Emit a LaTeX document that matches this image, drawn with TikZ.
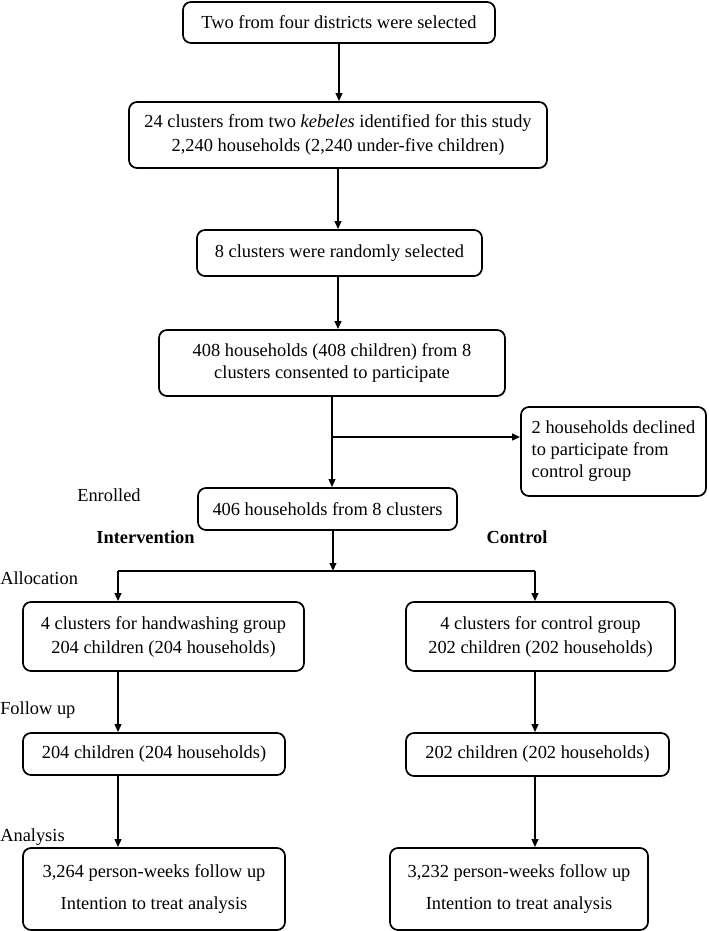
\documentclass[tikz,border=0pt]{standalone}
\usepackage{fontspec}
\setmainfont{LiberationSerif}[Extension=.ttf, UprightFont=*-Regular, BoldFont=*-Bold, ItalicFont=*-Italic, BoldItalicFont=*-BoldItalic]
\usetikzlibrary{arrows.meta}
\begin{document}
\begin{tikzpicture}[x=0.75pt,y=-0.75pt,
  box/.style={draw, line width=1.3pt, rounded corners=6pt, align=center, inner sep=0pt,
    font=\fontsize{13.8pt}{18pt}\selectfont},
  sz/.style 2 args={minimum width=#1*0.75pt, minimum height=#2*0.75pt},
  lbl/.style={inner sep=0pt, font=\fontsize{13.8pt}{16.5pt}\selectfont},
  arr/.style={line width=1.3pt, -{Triangle[length=6pt,width=5pt]}},
  ln/.style={line width=1.3pt}]
\useasboundingbox (0,0) rectangle (709,931);

% boxes
\node[box, sz={312}{41}] (b1) at (339,22.5) {Two from four districts were selected};
\node[box, sz={418}{66}] (b2) at (338,135) {24 clusters from two \textit{kebeles} identified for this study\\2,240 households (2,240 under-five children)};
\node[box, sz={285}{46}] (b3) at (339.5,253) {8 clusters were randomly selected};
\node[box, sz={346}{66}, font=\fontsize{13.8pt}{16.5pt}\selectfont] (b4) at (332,363) {408 households (408 children) from 8\\clusters consented to participate};
\node[box, sz={185}{89}, align=left, font=\fontsize{13.8pt}{16.5pt}\selectfont] (side) at (613.5,451.5) {2 households declined\\to participate from\\control group};
\node[box, sz={259}{42}] (b5) at (327.5,509) {406 households from 8 clusters};
\node[box, sz={281}{69}] (b6L) at (163.5,636.5) {4 clusters for handwashing group\\204 children (204 households)};
\node[box, sz={269}{69}] (b6R) at (540.5,636.5) {4 clusters for control group\\202 children (202 households)};
\node[box, sz={262}{42}] (b7L) at (154,754) {204 children (204 households)};
\node[box, sz={263}{43}] (b7R) at (537.5,754.5) {202 children (202 households)};
\node[box, sz={262}{82}, font=\fontsize{13.8pt}{24pt}\selectfont] (b8L) at (154,889) {3,264 person-weeks follow up\\Intention to treat analysis};
\node[box, sz={258}{82}, font=\fontsize{13.8pt}{24pt}\selectfont] (b8R) at (519,889) {3,232 person-weeks follow up\\Intention to treat analysis};

% side labels
\node[lbl, anchor=base west] (lenr) at (77,501) {Enrolled};
\node[lbl, anchor=base, font=\fontsize{13.8pt}{16.5pt}\selectfont\bfseries] (lint) at (145.5,543) {Intervention};
\node[lbl, anchor=base, font=\fontsize{13.8pt}{16.5pt}\selectfont\bfseries] (lcon) at (517,543) {Control};
\node[lbl, anchor=base west] (lall) at (0,584) {Allocation};
\node[lbl, anchor=base west] (lfol) at (0,714) {Follow up};
\node[lbl, anchor=base west] (lana) at (0,841) {Analysis};

% connector coordinates
\coordinate (br) at (332,437);
\coordinate (sp) at (333,571);
\coordinate (spL) at (118,571);
\coordinate (spR) at (535,571);

% connectors
\draw[arr] (b1.south) -- (b1.south |- b2.north);
\draw[arr] (b2.south) -- (b2.south |- b3.north);
\draw[arr] (b3.south -| b2.south) -- (b2.south |- b4.north);
\draw[arr] (b4.south) -- (b4.south |- b5.north);
\draw[arr] (br) -- (br -| side.west);
\draw[arr] (b5.south -| sp) -- (sp);
\draw[ln] (spL) -- (spR);
\draw[arr] (spL) -- (spL |- b6L.north);
\draw[arr] (spR) -- (spR |- b6R.north);
\draw[arr] (spL |- b6L.south) -- (spL |- b7L.north);
\draw[arr] (spR |- b6R.south) -- (spR |- b7R.north);
\draw[arr] (spL |- b7L.south) -- (spL |- b8L.north);
\draw[arr] (spR |- b7R.south) -- (spR |- b8R.north);
\end{tikzpicture}
\end{document}
